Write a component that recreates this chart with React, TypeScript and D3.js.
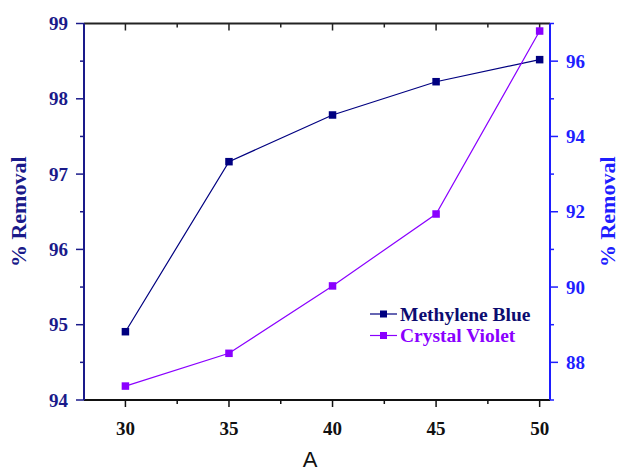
import React from "react";
import * as d3 from "d3";

const xValues = [30, 35, 40, 45, 50];
const methyleneBlue = [94.907, 97.165, 97.785, 98.227, 98.52];
const crystalViolet = [87.37, 88.24, 90.03, 91.94, 96.8];
const xTicks = [30, 35, 40, 45, 50];
const leftTicks = [94, 95, 96, 97, 98, 99];
const rightTicks = [88, 90, 92, 94, 96];
const seriesNames = ["Methylene Blue", "Crystal Violet"];

const W = 621, H = 472;
const L = 84, R = 550, T = 23.5, B = 400;
const NAVY = "#000080";
const LEFTC = "#1a1a8a";
const RIGHTC = "#1e1eff";
const PURPLE = "#8a00ff";
const FONT = "'Liberation Serif', 'Times New Roman', serif";

export default function App() {
  const x = d3.scaleLinear().domain([28, 50.5]).range([L, R]);
  const yL = d3.scaleLinear().domain([94, 99]).range([B, T]);
  const yR = d3.scaleLinear().domain([87, 97]).range([B, T]);
  const line = d3.line<[number, number]>().x(d => d[0]).y(d => d[1]);
  const mbPts: [number, number][] = xValues.map((v, i) => [x(v), yL(methyleneBlue[i])]);
  const cvPts: [number, number][] = xValues.map((v, i) => [x(v), yR(crystalViolet[i])]);
  const xMinor = d3.range(30, 50.1, 2.5).filter(v => v % 5 !== 0);
  const lMinor = d3.range(94.5, 99, 1);
  const rMinor = d3.range(87, 97.1, 2);
  const ms = 7.5;
  return (
    <div style={{ position: "fixed", left: 0, top: 0, width: W, height: H, overflow: "hidden" }}>
      <svg width={W} height={H} style={{ display: "block" }}>
        <rect width={W} height={H} fill="#fff" />
        {/* top border */}
        <line x1={L} x2={R} y1={T} y2={T} stroke="#222" strokeWidth={2} />
        {xTicks.map(v => <line key={"tt" + v} x1={x(v)} x2={x(v)} y1={T} y2={T + 7} stroke="#222" strokeWidth={1.5} />)}
        {xMinor.map(v => <line key={"tm" + v} x1={x(v)} x2={x(v)} y1={T} y2={T + 4} stroke="#222" strokeWidth={1.5} />)}
        {/* bottom axis */}
        <line x1={L} x2={R} y1={B} y2={B} stroke="#111" strokeWidth={2} />
        {xTicks.map(v => (
          <g key={"bt" + v}>
            <line x1={x(v)} x2={x(v)} y1={B} y2={B + 7} stroke="#111" strokeWidth={1.5} />
            <text x={x(v)} y={B + 35} textAnchor="middle" fontFamily={FONT} fontWeight="bold" fontSize={19} fill="#111">{v}</text>
          </g>
        ))}
        {xMinor.map(v => <line key={"bm" + v} x1={x(v)} x2={x(v)} y1={B} y2={B + 4} stroke="#111" strokeWidth={1.5} />)}
        <text x={310} y={467} textAnchor="middle" fontFamily="'Liberation Sans', Arial, sans-serif" fontSize={22} fill="#111">A</text>
        {/* left axis */}
        <line x1={L} x2={L} y1={T} y2={B} stroke={LEFTC} strokeWidth={2} />
        {leftTicks.map(v => (
          <g key={"lt" + v}>
            <line x1={L - 8} x2={L} y1={yL(v)} y2={yL(v)} stroke={LEFTC} strokeWidth={1.5} />
            <text x={L - 16} y={yL(v) + 6.5} textAnchor="end" fontFamily={FONT} fontWeight="bold" fontSize={19} fill={LEFTC}>{v}</text>
          </g>
        ))}
        {lMinor.map(v => <line key={"lm" + v} x1={L - 4} x2={L} y1={yL(v)} y2={yL(v)} stroke={LEFTC} strokeWidth={1.5} />)}
        <text transform={`translate(26,${(T + B) / 2}) rotate(-90)`} textAnchor="middle" fontFamily={FONT} fontWeight="bold" fontSize={22} fill={LEFTC}>% Removal</text>
        {/* right axis */}
        <line x1={R} x2={R} y1={T} y2={B} stroke={RIGHTC} strokeWidth={2} />
        {rightTicks.map(v => (
          <g key={"rt" + v}>
            <line x1={R} x2={R + 8} y1={yR(v)} y2={yR(v)} stroke={RIGHTC} strokeWidth={1.5} />
            <text x={R + 16} y={yR(v) + 6.5} textAnchor="start" fontFamily={FONT} fontWeight="bold" fontSize={19} fill={RIGHTC}>{v}</text>
          </g>
        ))}
        {rMinor.map(v => <line key={"rm" + v} x1={R} x2={R + 4} y1={yR(v)} y2={yR(v)} stroke={RIGHTC} strokeWidth={1.5} />)}
        <text transform={`translate(615,${(T + B) / 2}) rotate(-90)`} textAnchor="middle" fontFamily={FONT} fontWeight="bold" fontSize={22} fill={RIGHTC}>% Removal</text>
        {/* series */}
        <path d={line(mbPts) || ""} fill="none" stroke={NAVY} strokeWidth={1.2} />
        <path d={line(cvPts) || ""} fill="none" stroke={PURPLE} strokeWidth={1.2} />
        {mbPts.map((p, i) => <rect key={"mb" + i} x={p[0] - ms / 2} y={p[1] - ms / 2} width={ms} height={ms} fill={NAVY} />)}
        {cvPts.map((p, i) => <rect key={"cv" + i} x={p[0] - ms / 2} y={p[1] - ms / 2} width={ms} height={ms} fill={PURPLE} />)}
        {/* legend */}
        {seriesNames.map((name, i) => {
          const cy = 314 + i * 21.5;
          const c = i === 0 ? NAVY : PURPLE;
          return (
            <g key={name}>
              <line x1={370} x2={397} y1={cy} y2={cy} stroke={c} strokeWidth={1.2} />
              <rect x={383.5 - 3.5} y={cy - 3.5} width={7} height={7} fill={c} />
              <text x={400} y={cy + 6.5} fontFamily={FONT} fontWeight="bold" fontSize={19.5} fill={i === 0 ? "#0c0c70" : PURPLE}>{name}</text>
            </g>
          );
        })}
      </svg>
    </div>
  );
}
